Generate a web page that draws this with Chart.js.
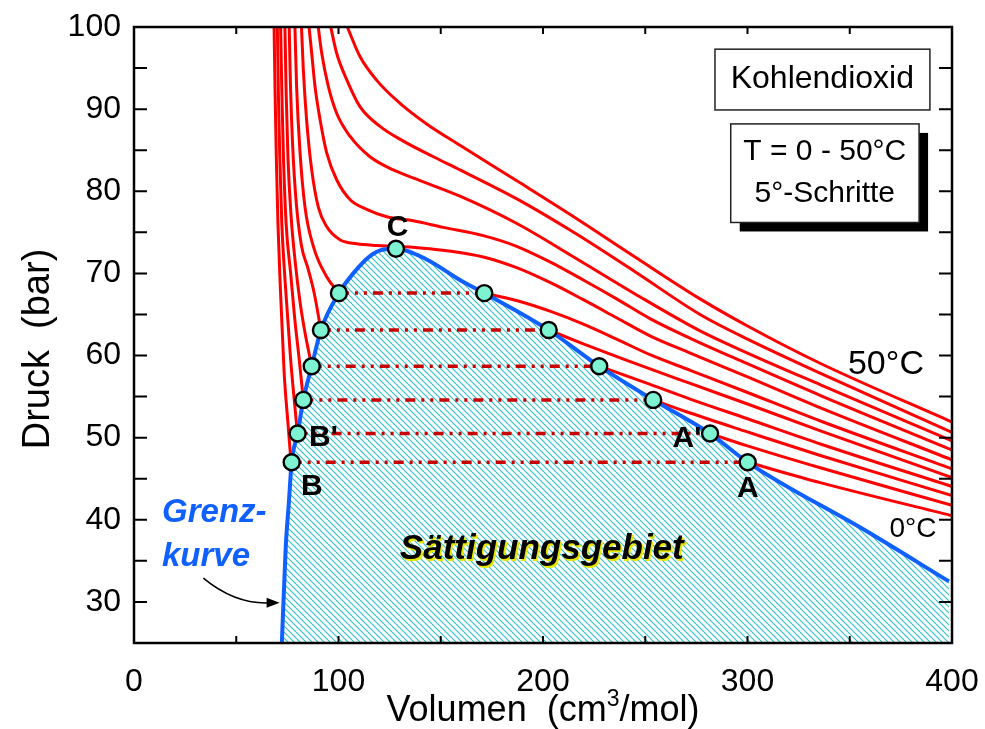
<!DOCTYPE html>
<html>
<head>
<meta charset="utf-8">
<script src="https://cdn.jsdelivr.net/npm/chart.js@4.4.1/dist/chart.umd.min.js"></script>
<style>
  html, body { margin: 0; padding: 0; background: #fff; }
</style>
</head>
<body>
<canvas id="pvChart" width="985" height="729"></canvas>
<script>
// axis ticks
const X_TICKS = [0, 100, 200, 300, 400];
const Y_TICKS = [30, 40, 50, 60, 70, 80, 90, 100];
const X_MARKS = [0, 50, 100, 150, 200, 250, 300, 350, 400];
const Y_MARKS = [25, 30, 35, 40, 45, 50, 55, 60, 65, 70, 75, 80, 85, 90, 95, 100];

// isotherms, [volume cm3/mol, pressure bar], 0..25 °C split at the two-phase region
const liquid0 = [[68.5, 100], [69.0, 92], [69.6, 84], [70.4, 76], [71.6, 68], [73.4, 58], [75.2, 52], [76.8, 47.0]];
const vapor0 = [[300.1, 47.0], [336, 44.5], [400, 40.5]];
const liquid5 = [[70.1, 100], [70.6, 92], [71.3, 84], [72.3, 76], [73.9, 69], [76.6, 59.5], [78.4, 54.5], [79.9, 50.5]];
const vapor5 = [[281.7, 50.5], [300, 49.0], [336, 46.3], [400, 41.75]];
const liquid10 = [[71.7, 100], [72.3, 92], [73.1, 84], [74.4, 76], [76.6, 70], [78.6, 64.5], [80.8, 59.5], [82.8, 54.6]];
const vapor10 = [[253.9, 54.6], [272, 53.0], [300, 50.7], [336, 47.8], [400, 42.95]];
const liquid15 = [[73.8, 100], [74.4, 92], [75.3, 84], [76.8, 77], [79.0, 71], [81.2, 66.5], [83.6, 62.8], [86.9, 58.7]];
const vapor15 = [[227.5, 58.7], [250, 56.7], [272, 54.7], [300, 52.3], [336, 49.2], [400, 44.05]];
const liquid20 = [[75.9, 100], [76.5, 93], [77.5, 86], [79.2, 79], [81.8, 73.5], [85.2, 70.5], [88.2, 67.5], [91.4, 63.1]];
const vapor20 = [[202.8, 63.1], [220, 61.4], [240, 59.5], [272, 56.6], [300, 54.1], [336, 50.8], [400, 45.15]];
const liquid25 = [[78.7, 100], [79.5, 92.8], [81.2, 84.7], [83.6, 78.1], [87.7, 73.3], [94.2, 69.6], [100.2, 67.6]];
const vapor25 = [[171.3, 67.6], [187, 66.7], [203.4, 65.4], [220, 63.8], [236, 62.0], [252.3, 60.1], [272, 58.2], [300, 55.5], [336, 52.0], [400, 46.2]];
const iso30 = [[81.9, 100], [82.8, 94.8], [84.4, 88.7], [86.9, 82.6], [90.1, 78.1], [94.2, 75.7], [100.7, 74.1], [108.9, 73.6], [118.7, 73.4],
  [128, 73.3], [140, 73.1], [155, 72.7], [170.8, 72.0], [187.1, 70.7], [203.4, 68.9], [219.7, 66.8], [236, 64.6], [252.3, 62.4], [272, 60.3],
  [300, 57.4], [336, 53.6], [400, 47.3]];
const iso35 = [[85.6, 100], [86.9, 96.8], [88.5, 92.8], [91.0, 88.7], [94.2, 84.7], [99.1, 81.4], [105.6, 79.0], [113.8, 77.8], [123.6, 76.9],
  [136.6, 76.4], [151.2, 75.6], [170.8, 74.6], [187.1, 73.3], [203.4, 71.4], [219.7, 69.2], [236, 66.9], [252.3, 64.5], [272, 62.1],
  [300, 59.0], [336, 55.1], [400, 48.5]];
const iso40 = [[90.1, 100], [91.8, 96.8], [95.0, 92.8], [99.1, 89.5], [105.6, 86.7], [115.4, 84.2], [126.8, 82.6], [139.9, 81.3], [159.4, 79.4],
  [187, 76.1], [215, 72.0], [245, 67.5], [276.8, 63.0], [300, 60.3], [336, 56.4], [400, 49.6]];
const iso45 = [[96.2, 100], [99.1, 96.8], [104.0, 93.6], [110.5, 90.3], [120.3, 87.9], [131.7, 86.1], [146.4, 84.2], [159.4, 82.6],
  [187, 79.1], [215, 75.0], [245, 70.2], [276.8, 65.0], [300, 62.0], [336, 57.8], [400, 50.65]];
const iso50 = [[104.3, 100], [110.5, 96.4], [118.7, 93.5], [130.1, 90.7], [143.1, 88.2], [159.4, 85.6], [187, 81.3], [215, 76.9],
  [245, 72.0], [276.8, 66.9], [300, 63.6], [336, 59.0], [400, 51.9]];

// Grenzkurve (saturation boundary)
const boundary = [[72.3, 25], [74.2, 36.7], [75.7, 42], [77.1, 47.0], [80.0, 50.5], [82.8, 54.6], [86.9, 58.7], [91.4, 63.1], [100.2, 67.6],
  [107.2, 70.0], [115.4, 72.1], [121.9, 72.9], [128.1, 73.0], [143.1, 71.7], [159.4, 69.2], [171.3, 67.6], [202.8, 63.1], [227.5, 58.7],
  [253.9, 54.6], [281.7, 50.5], [300.1, 47.0], [358.3, 38.6], [398.5, 32.5]];

// tie lines (Verdampfungsgeraden)
const TIE_P = [47.0, 50.5, 54.6, 58.7, 63.1, 67.6];
const TIE_VL = [77.1, 80.0, 82.8, 86.9, 91.4, 100.2];
const TIE_VG = [300.1, 281.7, 253.9, 227.5, 202.8, 171.3];
const CRIT = [128.1, 73.0];

const FONT = "'Liberation Sans', Arial, Helvetica, sans-serif";
const toXY = (pts) => pts.map(([x, y]) => ({ x: x, y: y }));

function makeHatch() {
  const c = document.createElement("canvas");
  c.width = 6;
  c.height = 6;
  const g = c.getContext("2d");
  g.strokeStyle = "#2cc0c6";
  g.lineWidth = 1.1;
  g.beginPath();
  g.moveTo(0, 0);
  g.lineTo(6, 6);
  g.moveTo(-3, 3);
  g.lineTo(3, 9);
  g.moveTo(3, -3);
  g.lineTo(9, 3);
  g.stroke();
  return g.createPattern(c, "repeat");
}

const datasets = [];

// circles
const circlePts = [];
for (let i = 0; i < TIE_P.length; i++) {
  circlePts.push([TIE_VL[i], TIE_P[i]]);
  circlePts.push([TIE_VG[i], TIE_P[i]]);
}
circlePts.push(CRIT);
circlePts.sort((a, b) => a[0] - b[0]);
datasets.push({
  data: toXY(circlePts),
  showLine: false,
  pointRadius: 8,
  pointBackgroundColor: "#7df3d2",
  pointBorderColor: "#000",
  pointBorderWidth: 2.4,
  order: 0,
});

// tie lines
for (let i = 0; i < TIE_P.length; i++) {
  datasets.push({
    data: toXY([[TIE_VL[i], TIE_P[i]], [TIE_VG[i], TIE_P[i]]]),
    borderColor: "#c80000",
    borderWidth: 3.5,
    borderDash: [10, 6, 3, 6, 3, 6],
    pointRadius: 0,
    order: 1,
  });
}

// boundary with hatched area
datasets.push({
  data: toXY(boundary),
  borderColor: "#1060ff",
  borderWidth: 4,
  pointRadius: 0,
  cubicInterpolationMode: "monotone",
  fill: "start",
  backgroundColor: makeHatch(),
  order: 2,
});

// isotherms
const branches = [liquid0, vapor0, liquid5, vapor5, liquid10, vapor10, liquid15, vapor15,
  liquid20, vapor20, liquid25, vapor25, iso30, iso35, iso40, iso45, iso50];
branches.forEach((b) => {
  datasets.push({
    data: toXY(b),
    borderColor: "#ff0000",
    borderWidth: 3,
    pointRadius: 0,
    cubicInterpolationMode: "monotone",
    fill: false,
    order: 3,
  });
});

function textAt(ctx, chart, str, x, y, font, color, align) {
  ctx.font = font;
  ctx.fillStyle = color || "#000";
  ctx.textAlign = align || "center";
  ctx.textBaseline = "middle";
  ctx.fillText(str, chart.scales.x.getPixelForValue(x), chart.scales.y.getPixelForValue(y));
}

const decorations = {
  id: "decorations",
  afterDatasetsDraw(chart) {
    const ctx = chart.ctx;
    const xs = chart.scales.x;
    const ys = chart.scales.y;
    ctx.save();

    // point labels
    const bold = "bold 30px " + FONT;
    textAt(ctx, chart, "C", 128.9, 75.6, bold);
    textAt(ctx, chart, "B", 86.9, 44.0, bold);
    textAt(ctx, chart, "B'", 92.6, 50.0, bold);
    textAt(ctx, chart, "A'", 270.4, 49.9, bold);
    textAt(ctx, chart, "A", 300.2, 43.8, bold);

    // temperature labels
    textAt(ctx, chart, "50°C", 367.7, 58.9, "34px " + FONT);
    textAt(ctx, chart, "0°C", 380.9, 38.8, "28px " + FONT);

    // Grenzkurve
    textAt(ctx, chart, "Grenz-", 13.7, 40.9, "italic bold 33px " + FONT, "#1060ff", "left");
    textAt(ctx, chart, "kurve", 13.7, 35.5, "italic bold 33px " + FONT, "#1060ff", "left");
    const ax0 = xs.getPixelForValue(33.9), ay0 = ys.getPixelForValue(32.9);
    const acx = xs.getPixelForValue(50), acy = ys.getPixelForValue(29.6);
    const ax1 = xs.getPixelForValue(71.2), ay1 = ys.getPixelForValue(29.9);
    ctx.strokeStyle = "#000";
    ctx.lineWidth = 1.5;
    ctx.beginPath();
    ctx.moveTo(ax0, ay0);
    ctx.quadraticCurveTo(acx, acy, ax1 - 8, ay1);
    ctx.stroke();
    ctx.fillStyle = "#000";
    ctx.beginPath();
    ctx.moveTo(ax1, ay1);
    ctx.lineTo(ax1 - 13, ay1 - 5);
    ctx.lineTo(ax1 - 13, ay1 + 5);
    ctx.closePath();
    ctx.fill();

    // Sättigungsgebiet
    textAt(ctx, chart, "Sättigungsgebiet", 199.4 + 0.8, 36.4 - 0.2, "italic bold 35px " + FONT, "#e6e600");
    textAt(ctx, chart, "Sättigungsgebiet", 199.4, 36.4, "italic bold 35px " + FONT, "#000");

    // boxes
    const b1 = [xs.getPixelForValue(284.1), ys.getPixelForValue(97.3), xs.getPixelForValue(389.2), ys.getPixelForValue(89.9)];
    ctx.fillStyle = "#fff";
    ctx.fillRect(b1[0], b1[1], b1[2] - b1[0], b1[3] - b1[1]);
    ctx.strokeStyle = "#222";
    ctx.lineWidth = 1.5;
    ctx.strokeRect(b1[0], b1[1], b1[2] - b1[0], b1[3] - b1[1]);
    textAt(ctx, chart, "Kohlendioxid", 336.6, 93.6, "32px " + FONT);

    const b2 = [xs.getPixelForValue(291.8), ys.getPixelForValue(88.2), xs.getPixelForValue(383.9), ys.getPixelForValue(76.2)];
    ctx.fillStyle = "#000";
    ctx.fillRect(b2[0] + 9, b2[1] + 9, b2[2] - b2[0], b2[3] - b2[1]);
    ctx.fillStyle = "#fff";
    ctx.fillRect(b2[0], b2[1], b2[2] - b2[0], b2[3] - b2[1]);
    ctx.strokeRect(b2[0], b2[1], b2[2] - b2[0], b2[3] - b2[1]);
    textAt(ctx, chart, "T = 0 - 50°C", 337.8, 84.8, "30px " + FONT);
    textAt(ctx, chart, "5°-Schritte", 337.8, 79.7, "30px " + FONT);

    ctx.restore();
  },
  afterDraw(chart) {
    const ctx = chart.ctx;
    const xs = chart.scales.x;
    const ys = chart.scales.y;
    const { left, right, top, bottom } = chart.chartArea;
    ctx.save();
    ctx.strokeStyle = "#000";
    ctx.lineWidth = 2;
    ctx.beginPath();
    X_MARKS.forEach((v) => {
      const px = xs.getPixelForValue(v);
      ctx.moveTo(px, bottom);
      ctx.lineTo(px, bottom - 7);
      ctx.moveTo(px, top);
      ctx.lineTo(px, top + 7);
    });
    Y_MARKS.forEach((v) => {
      const py = ys.getPixelForValue(v);
      ctx.moveTo(left, py);
      ctx.lineTo(left + 13, py);
      ctx.moveTo(right, py);
      ctx.lineTo(right - 13, py);
    });
    ctx.stroke();
    ctx.lineWidth = 2.5;
    ctx.strokeRect(left, top, right - left, bottom - top);

    // axis titles
    ctx.fillStyle = "#000";
    ctx.textBaseline = "alphabetic";
    const p1 = "Volumen  (cm";
    const p2 = "/mol)";
    ctx.font = "36px " + FONT;
    const w1 = ctx.measureText(p1).width;
    const w3 = ctx.measureText(p2).width;
    ctx.font = "23px " + FONT;
    const w2 = ctx.measureText("3").width;
    const total = w1 + w2 + w3;
    const tx = (left + right) / 2 - total / 2;
    const ty = 721;
    ctx.textAlign = "left";
    ctx.font = "36px " + FONT;
    ctx.fillText(p1, tx, ty);
    ctx.font = "23px " + FONT;
    ctx.fillText("3", tx + w1, ty - 15);
    ctx.font = "36px " + FONT;
    ctx.fillText(p2, tx + w1 + w2, ty);

    ctx.translate(49, 349);
    ctx.rotate(-Math.PI / 2);
    ctx.textAlign = "center";
    ctx.font = "38px " + FONT;
    ctx.fillText("Druck  (bar)", 0, 0);
    ctx.restore();
  },
};

const ctx = document.getElementById("pvChart").getContext("2d");
new Chart(ctx, {
  type: "line",
  data: { datasets: datasets },
  options: {
    responsive: false,
    animation: false,
    devicePixelRatio: 1,
    layout: { padding: { top: 27, right: 33, left: 0, bottom: 0 } },
    plugins: {
      legend: { display: false },
      tooltip: { enabled: false },
      filler: { drawTime: "beforeDatasetsDraw" },
    },
    scales: {
      x: {
        type: "linear",
        min: 0,
        max: 400,
        grid: { display: false, drawTicks: false },
        border: { display: false },
        ticks: { padding: 20, color: "#000", font: { family: FONT, size: 32 } },
        afterBuildTicks: (s) => { s.ticks = X_TICKS.map((v) => ({ value: v })); },
        afterFit: (s) => { s.height = 86; s.paddingLeft = 0; s.paddingRight = 0; },
      },
      y: {
        type: "linear",
        min: 25,
        max: 100,
        grid: { display: false, drawTicks: false },
        border: { display: false },
        ticks: { padding: 13, color: "#000", font: { family: FONT, size: 32 } },
        afterBuildTicks: (s) => { s.ticks = Y_TICKS.map((v) => ({ value: v })); },
        afterFit: (s) => { s.width = 134; s.paddingTop = 0; s.paddingBottom = 0; },
      },
    },
  },
  plugins: [decorations],
});
</script>
</body>
</html>
